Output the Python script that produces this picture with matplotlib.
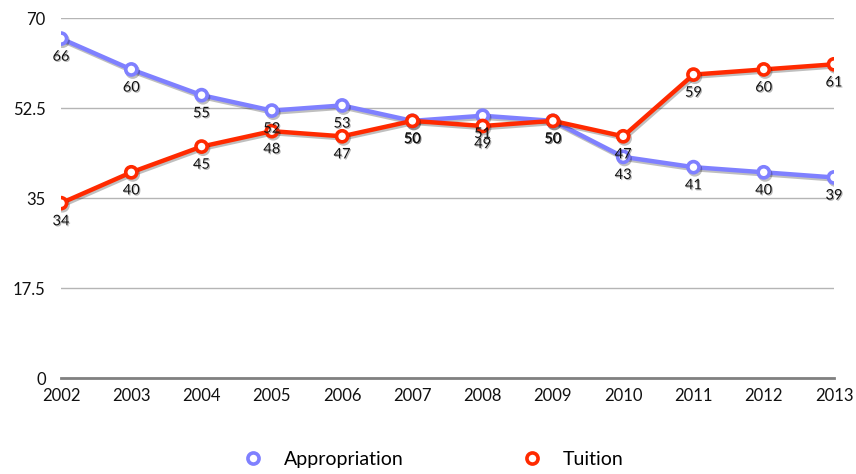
import numpy as np
import matplotlib
matplotlib.use("Agg")
import matplotlib.pyplot as plt
import matplotlib.patheffects as pe

years = ["2002", "2003", "2004", "2005", "2006", "2007",
         "2008", "2009", "2010", "2011", "2012", "2013"]
appropriation = [66, 60, 55, 52, 53, 50, 51, 50, 43, 41, 40, 39]
tuition = [34, 40, 45, 48, 47, 50, 49, 50, 47, 59, 60, 61]
y_ticks = [0, 17.5, 35, 52.5, 70]
y_tick_labels = ["0", "17.5", "35", "52.5", "70"]

plt.rcParams["font.family"] = ["Lato", "DejaVu Sans"]

fig = plt.figure(figsize=(8.56, 4.74), dpi=100)
ax = fig.add_axes([0.0713, 0.2025, 0.9030, 0.7595])

x = np.arange(len(years))
shadow = [pe.SimpleLineShadow(offset=(1, -1.5), shadow_color="k", alpha=0.25), pe.Normal()]

series = [("Appropriation", appropriation, "#7f80ff"),
          ("Tuition", tuition, "#ff2a00")]
for name, vals, col in series:
    ax.plot(x, vals, color=col, lw=3.2, marker="o", ms=8, mfc="white",
            mec=col, mew=2.6, label=name, zorder=3, path_effects=shadow)
    for xi, v in zip(x, vals):
        ax.annotate(str(v), (xi, v), xytext=(0, -8), textcoords="offset points",
                    ha="center", va="top", fontsize=10.5, color="#111111", zorder=5,
                    path_effects=[pe.withSimplePatchShadow(offset=(0.8, -0.8), alpha=0.3)])

ax.set_xlim(0, len(years) - 1)
ax.set_ylim(0, 70)
ax.set_yticks(y_ticks)
ax.set_yticklabels(y_tick_labels)
ax.set_xticks(x)
ax.set_xticklabels(years)
ax.tick_params(length=0, labelsize=12, colors="#111111")
ax.tick_params(axis="y", pad=11)
ax.tick_params(axis="x", pad=7)
ax.grid(axis="y", color="#b5b5b5", lw=1)
ax.set_axisbelow(True)
for s in ["top", "right", "left"]:
    ax.spines[s].set_visible(False)
ax.spines["bottom"].set_color("#808080")
ax.spines["bottom"].set_linewidth(2)

leg = fig.legend(loc="center", bbox_to_anchor=(0.505, 0.03), ncol=2, frameon=False,
                 fontsize=14, handlelength=1.2, columnspacing=6, handletextpad=1.0)
for h in leg.legend_handles:
    h.set_linestyle("none")
    h.set_path_effects([])

fig.savefig("out.png", dpi=100)
